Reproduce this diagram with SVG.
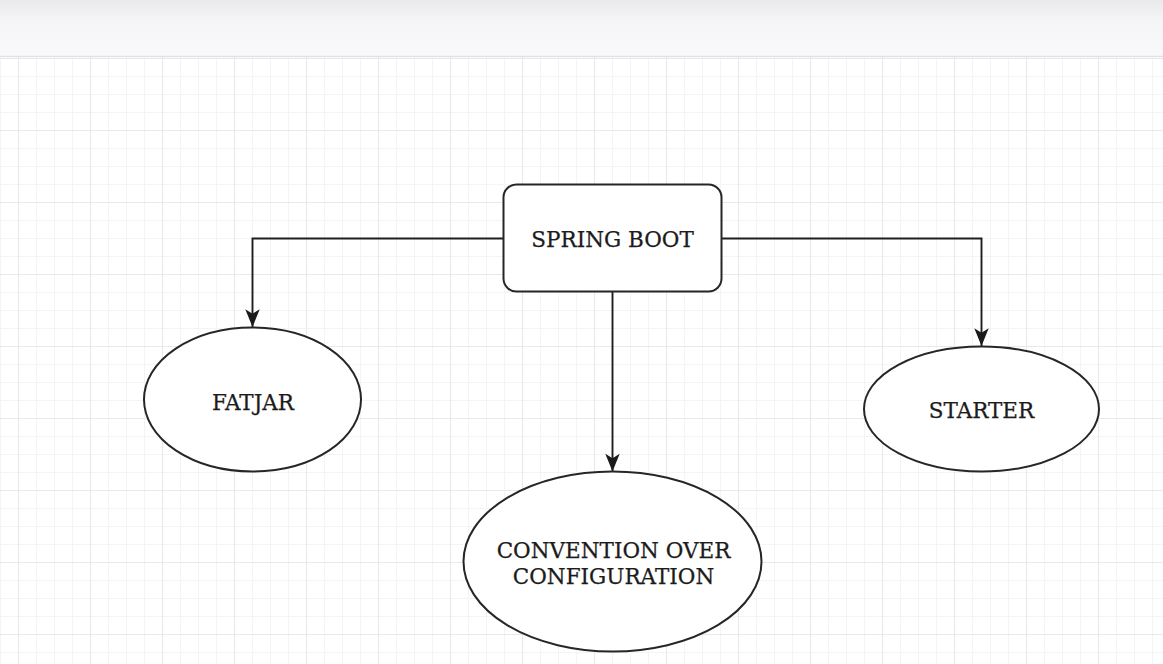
<svg xmlns="http://www.w3.org/2000/svg" width="1163" height="664" viewBox="0 0 1163 664">
  <defs>
    <linearGradient id="bar" x1="0" y1="0" x2="0" y2="1">
      <stop offset="0" stop-color="#e9e9ec"/>
      <stop offset="0.35" stop-color="#f5f5f7"/>
      <stop offset="1" stop-color="#f9f9fb"/>
    </linearGradient>
    <pattern id="minor" x="0" y="4" width="18" height="18" patternUnits="userSpaceOnUse">
      <path d="M0 0.5H18M0.5 0V18" fill="none" stroke="#f4f4f5" stroke-width="1"/>
    </pattern>
    <pattern id="major" x="18" y="58" width="72" height="72" patternUnits="userSpaceOnUse">
      <path d="M0 0.5H72M0.5 0V72" fill="none" stroke="#e9e9eb" stroke-width="1.2"/>
    </pattern>
    <marker id="arrow" markerUnits="userSpaceOnUse" markerWidth="20" markerHeight="20" viewBox="-17 -8 18 16" refX="0" refY="0" orient="auto">
      <path d="M0,0 L-16,-6.5 L-12,0 L-16,6.5 Z" fill="#1a1a1a"/>
    </marker>
  </defs>
  <style>
    .shape { fill: #ffffff; stroke: #262626; stroke-width: 2; }
    .edge { fill: none; stroke: #1e1e1e; stroke-width: 1.9; marker-end: url(#arrow); }
    .label { font-family: "DejaVu Serif", "Liberation Serif", serif; font-size: 21.5px; fill: #1c1c1c; stroke: #1c1c1c; stroke-width: 0.25; text-anchor: middle; }
  </style>

  <rect x="0" y="0" width="1163" height="664" fill="#ffffff"/>
  <rect x="0" y="57" width="1163" height="607" fill="url(#minor)"/>
  <rect x="0" y="57" width="1163" height="607" fill="url(#major)"/>
  <rect x="0" y="0" width="1163" height="56" fill="url(#bar)"/>
  <line x1="0" y1="56.5" x2="1163" y2="56.5" stroke="#e2e2e5" stroke-width="1.5"/>

  <g id="connectors">
    <path class="edge" d="M503,238.5 H252.5 V327"/>
    <path class="edge" d="M722,238.5 H981.5 V346"/>
    <path class="edge" d="M612.5,292 V471.5"/>
  </g>

  <g id="spring-boot">
    <rect class="shape" x="503.5" y="184.5" width="218" height="107" rx="13" ry="13"/>
    <text class="label" x="612.5" y="247">SPRING BOOT</text>
  </g>

  <g id="fatjar">
    <ellipse class="shape" cx="252.5" cy="399.5" rx="108.5" ry="72"/>
    <text class="label" x="253" y="410">FATJAR</text>
  </g>

  <g id="starter">
    <ellipse class="shape" cx="981.5" cy="409" rx="117.5" ry="62.5"/>
    <text class="label" x="981.5" y="418">STARTER</text>
  </g>

  <g id="convention">
    <ellipse class="shape" cx="612.5" cy="561.5" rx="149" ry="90"/>
    <text class="label" x="613.5" y="558">CONVENTION OVER</text>
    <text class="label" x="613.5" y="584">CONFIGURATION</text>
  </g>
</svg>
